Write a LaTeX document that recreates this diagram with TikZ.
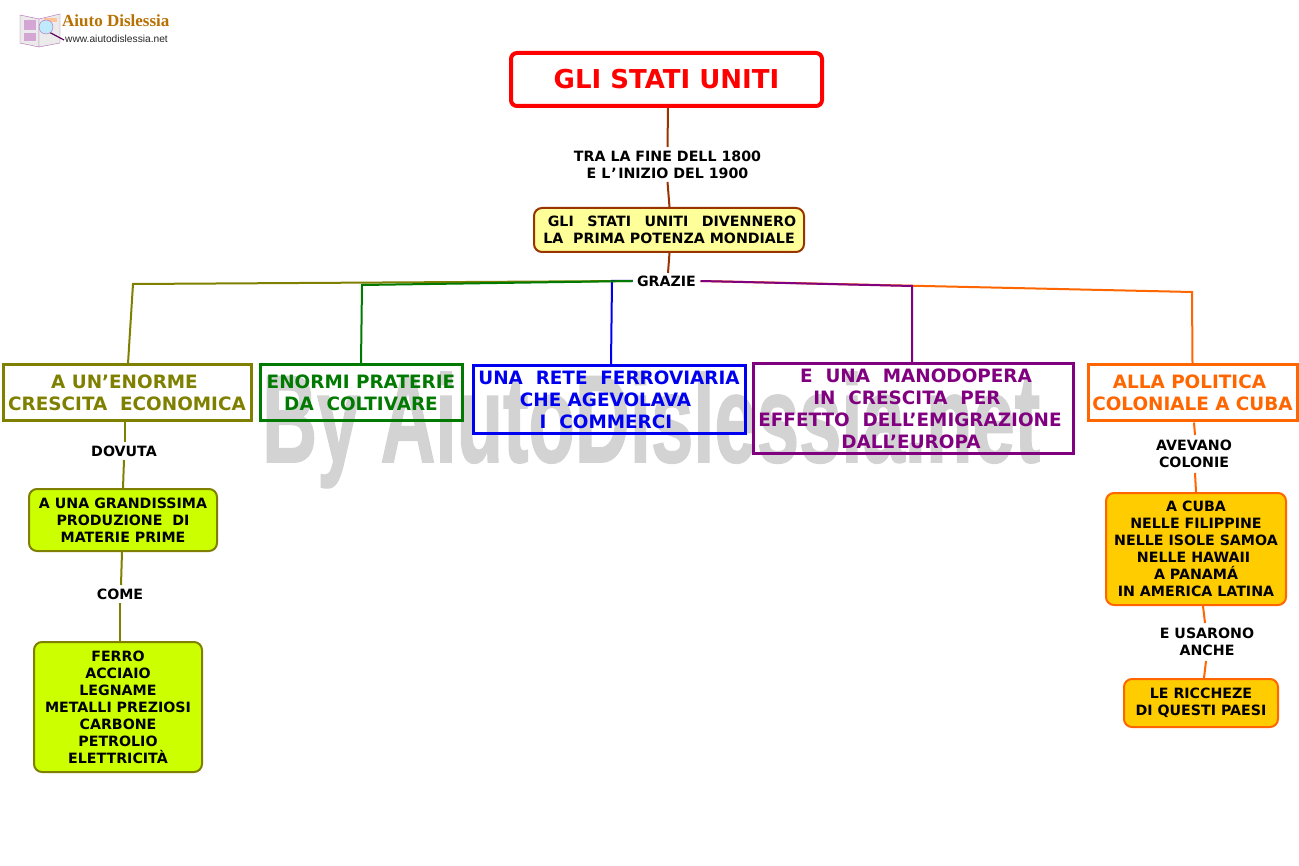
\documentclass[tikz,border=0pt]{standalone}
\usepackage{fontspec}
\setmainfont{DejaVu Sans}
\newfontfamily\markfont{Liberation Sans}
\newfontfamily\stampfont[BoldFeatures={FakeBold=1.5}]{Liberation Sans}
\newfontfamily\logofont{Liberation Serif}
\usepackage{tikz}
\usetikzlibrary{positioning}
\definecolor{brownline}{HTML}{993300}
\definecolor{olivetone}{HTML}{808000}
\definecolor{greentone}{HTML}{007A00}
\definecolor{bluetone}{HTML}{0000F0}
\definecolor{purpletone}{HTML}{800080}
\definecolor{orangetone}{HTML}{FF6600}
\definecolor{paleyellow}{HTML}{FFFF99}
\definecolor{limefill}{HTML}{CCFF00}
\definecolor{goldfill}{HTML}{FFCC00}
\definecolor{markgray}{HTML}{D3D3D3}
\newcommand{\notefont}{\fontsize{14.2}{17}\selectfont\bfseries}
\newcommand{\topicfont}{\fontsize{18.4}{22}\selectfont\bfseries}
\newcommand{\widegap}{\hspace{13.6pt}}
\tikzset{
    x=1pt, y=-1pt,
    titlebox/.style={draw=red, text=red, line width=4pt, rounded corners=6pt, minimum width=311pt, minimum height=53pt, font=\fontsize{26}{30}\selectfont\bfseries},
    topicbox/.style={draw=#1, text=#1, line width=3pt, align=center, inner sep=0pt, font=\topicfont},
    notebox/.style 2 args={draw=#1, fill=#2, line width=2pt, rounded corners=8pt, align=center, inner sep=0pt, font=\notefont},
    linklabel/.style={align=center, inner sep=0pt, outer sep=0pt, font=\notefont},
    linkline/.style={draw=#1, line width=2pt}
}

\begin{document}
\begin{tikzpicture}
        \path[fill=white, use as bounding box] (0,0) rectangle (1299,866);

        \node[anchor=base west, inner sep=0pt, text=markgray] (watermark) at (262,462)
        { \resizebox{778pt}{90pt}{\stampfont\bfseries By AiutoDislessia.net} };

        \node[titlebox] (title) at (666.5,79.5) { GLI STATI UNITI };
        \node[linklabel, minimum height=35pt, below=39pt of title, xshift=1pt] (period)
        { TRA LA FINE DELL 1800\\ E L\kern1pt’\kern1.5pt INIZIO DEL 1900};
        \node[notebox={brownline}{paleyellow}, minimum width=270pt, minimum height=44pt, below=25pt of period, xshift=1.5pt] (power)
        { \hspace*{6pt}GLI\widegap STATI\widegap UNITI\widegap DIVENNERO\\ LA\ \ PRIMA POTENZA MONDIALE};
        \node[linklabel, minimum width=68pt, minimum height=16pt, below=20pt of power, xshift=-2.5pt] (thanks) { GRAZIE};

        \node[topicbox=olivetone, minimum width=248pt, minimum height=56pt] (growth) at (127,393)
        { A UN’ENORME\kern5pt\\ CRESCITA\ \ ECONOMICA};
        \node[topicbox=greentone, minimum width=202pt, minimum height=56pt, right=6pt of growth] (prairie)
        { ENORMI PRATERIE\\ DA\ \ COLTIVARE};
        \node[topicbox=bluetone, minimum width=272pt, minimum height=68pt, right=8pt of prairie, yshift=-7pt] (railway)
        { UNA\ \ RETE\ \ FERROVIARIA\\ CHE AGEVOLAVA\kern7pt\\ I\ \ COMMERCI\kern6pt};
        \node[topicbox=purpletone, minimum width=320pt, minimum height=90pt, right=5pt of railway, yshift=-9pt] (labour)
        { \hspace*{6pt}E\ \ UNA\ \ MANODOPERA\\ IN\ \ CRESCITA\ \ PER\kern12pt\\ EFFETTO\ \ DELL’EMIGRAZIONE\kern6pt\\ DALL’EUROPA\kern4pt};
        \node[topicbox=orangetone, minimum width=209pt, minimum height=56pt, right=12pt of labour, yshift=16pt] (colonial)
        { ALLA POLITICA\kern6pt\\ COLONIALE A CUBA};

        \node[linklabel, minimum height=18pt, below=19.5pt of growth, xshift=-3pt] (due) { DOVUTA};
        \node[notebox={olivetone}{limefill}, minimum width=188pt, minimum height=62pt, below=28pt of due, xshift=-1pt] (output)
        { A UNA GRANDISSIMA\\ PRODUZIONE\ \ DI\\ MATERIE PRIME};
        \node[linklabel, minimum height=18pt, below=33pt of output, xshift=-3pt] (such) { COME};
        \node[notebox={olivetone}{limefill}, minimum width=168pt, minimum height=130pt, below=38pt of such, xshift=-2pt] (goods)
        { FERRO\\ ACCIAIO\\ LEGNAME\\ METALLI PREZIOSI\\ CARBONE\\ PETROLIO\\ ELETTRICITÀ};

        \node[linklabel, minimum height=38pt, below=12.5pt of colonial, xshift=1.5pt] (had) { AVEVANO\\ COLONIE};
        \node[notebox={orangetone}{goldfill}, minimum width=180pt, minimum height=112pt, below=19pt of had, xshift=2pt] (places)
        { A CUBA\\ NELLE FILIPPINE\\ NELLE ISOLE SAMOA\\ NELLE HAWAII\kern5pt\\ A PANAMÁ\\ IN AMERICA LATINA};
        \node[linklabel, minimum height=38pt, below=17pt of places, xshift=11pt] (used) { E USARONO\\ ANCHE};
        \node[notebox={orangetone}{goldfill}, minimum width=154pt, minimum height=48pt, below=17pt of used, xshift=-6pt] (wealth)
        { LE RICCHEZE\\ DI QUESTI PAESI};

        \coordinate (bendolive) at (133,284);
        \coordinate (bendgreen) at (362,285);
        \coordinate (bendblue) at (612,281);
        \coordinate (bendpurple) at (912,286);
        \coordinate (bendorange) at (1192,292);

        \draw[linkline=brownline] ([xshift=1.5pt]title.south) -- (period.north);
        \draw[linkline=brownline] (period.south) -- ([xshift=.5pt]power.north);
        \draw[linkline=brownline] ([xshift=.5pt]power.south) -- ([xshift=1.5pt]thanks.north);

        \draw[linkline=olivetone] (thanks.west) -- (bendolive) -- ([xshift=1pt]growth.north);
        \draw[linkline=bluetone] (thanks.west) -- (bendblue) -- ([xshift=2pt]railway.north);
        \draw[linkline=greentone] (thanks.west) -- (bendgreen) -- (prairie.north);
        \draw[linkline=orangetone] (thanks.east) -- (bendorange) -- (colonial.north);
        \draw[linkline=purpletone] (thanks.east) -- (bendpurple) -- ([xshift=-1pt]labour.north);

        \draw[linkline=olivetone] ([xshift=-2pt]growth.south) -- ([xshift=1pt]due.north);
        \draw[linkline=olivetone] (due.south) -- (output.north);
        \draw[linkline=olivetone] ([xshift=-1pt]output.south) -- ([xshift=1pt]such.north);
        \draw[linkline=olivetone] (such.south) -- ([xshift=2pt]goods.north);

        \draw[linkline=orangetone] ([xshift=1.5pt]colonial.south) -- ([xshift=1pt]had.north);
        \draw[linkline=orangetone] ([xshift=1pt]had.south) -- (places.north);
        \draw[linkline=orangetone] ([xshift=7pt]places.south) -- ([xshift=-2pt]used.north);
        \draw[linkline=orangetone] ([xshift=-1pt]used.south) -- ([xshift=3pt]wealth.north);

        \draw[fill=black!8, draw=purpletone!60] (20,15) -- (39,19) -- (39,47) -- (20,43) -- cycle;
        \draw[fill=black!8, draw=purpletone!60] (39,19) -- (60,14) -- (60,43) -- (39,47) -- cycle;
        \fill[purpletone!35] (24,20) rectangle (36,30);
        \fill[purpletone!35] (24,33) rectangle (36,41);
        \fill[orangetone!40] (44,18) rectangle (57,22);
        \draw[purpletone!70!black, line width=1.2pt] (47,31) -- (64,40);
        \draw[fill=cyan!25, draw=purpletone!60] (46,27) circle (7);
        \node[anchor=base west, inner sep=0pt, text=brownline!70!yellow] (logoname) at (62,27)
        { \logofont\bfseries\fontsize{17}{17}\selectfont Aiuto Dislessia };
        \node[anchor=base west, inner sep=0pt, text=black!85] (logourl) at (65,43)
        { \markfont\fontsize{10.2}{11}\selectfont www.aiutodislessia.net };
    \end{tikzpicture}
\end{document}
